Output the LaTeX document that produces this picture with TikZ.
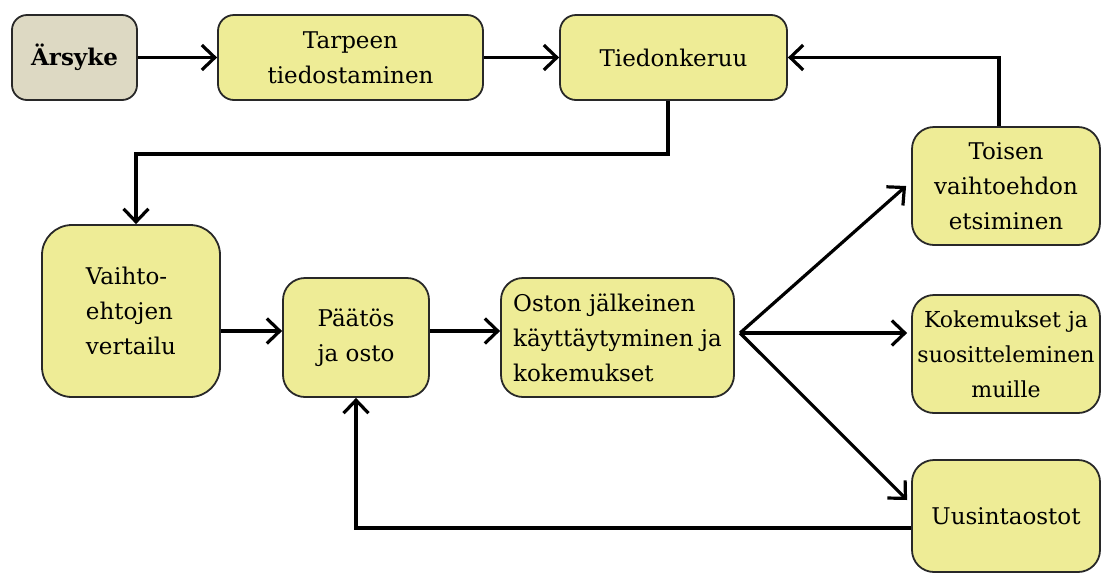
\documentclass[tikz,border=0pt]{standalone}
\usepackage{fontspec}
\setmainfont{DejaVu Serif}
\usetikzlibrary{arrows.meta}
\definecolor{boxyellow}{RGB}{238,236,150}
\definecolor{boxbeige}{RGB}{221,217,195}
\definecolor{edgegray}{RGB}{40,40,40}
\tikzset{
  box/.style={draw=edgegray, line width=1.8pt, fill=boxyellow, rounded corners=#1,
    inner sep=0pt, align=center, text=black, font=\fontsize{23}{35}\selectfont},
  box/.default=16pt,
  link/.style={line width=3.2pt, black},
  arr/.style={link, -{Straight Barb[length=13pt,width=25pt]}},
}
\begin{document}
\begin{tikzpicture}[x=1pt, y=-1pt]
  \useasboundingbox (0,0) rectangle (1106,574);

  % top row
  \node[box=15pt, fill=boxbeige, minimum width=125pt, minimum height=85pt, font=\fontsize{23}{35}\selectfont\bfseries]
    (arsyke) at (74.5,57.5) {Ärsyke};
  \node[box=16pt, minimum width=265pt, minimum height=85pt]
    (tarve) at (350.5,57.5) {Tarpeen\\tiedostaminen};
  \node[box=16pt, minimum width=227pt, minimum height=85pt]
    (tiedon) at (673.5,57.5) {Tiedonkeruu};

  % middle row
  \node[box=30pt, minimum width=178pt, minimum height=172pt, align=left]
    (vaihto) at (131,311) {Vaihto-\\ehtojen\\vertailu};
  \node[box=22pt, minimum width=146pt, minimum height=119pt, align=left]
    (paatos) at (356,337.5) {Päätös\\ja osto};
  \node[box=22pt, minimum width=233pt, minimum height=119pt, align=left]
    (oston) at (617.5,337.5) {Oston jälkeinen\\käyttäytyminen ja\\kokemukset};

  % right column
  \node[box=22pt, minimum width=188pt, minimum height=118pt]
    (toisen) at (1006,186) {Toisen\\vaihtoehdon\\etsiminen};
  \node[box=22pt, minimum width=188pt, minimum height=118pt, font=\fontsize{22}{35}\selectfont]
    (kokem) at (1006,354) {Kokemukset ja\\suositteleminen\\muille};
  \node[box=22pt, minimum width=188pt, minimum height=112pt]
    (uusinta) at (1006,516) {Uusintaostot};

  % helper points for the routed connectors
  \coordinate (yback) at (0,154);
  \coordinate (yrow) at (0,331);
  \coordinate (tdown) at ([xshift=-5.5pt]tiedon.south);
  \coordinate (vtop) at ([xshift=5pt]vaihto.north);
  \coordinate (tup) at ([xshift=-7pt]toisen.north);
  \coordinate (br) at (740,333);

  % connectors
  \draw[arr] (arsyke) -- (tarve);
  \draw[arr] (tarve) -- (tiedon);
  \draw[arr] (tdown) -- (tdown |- yback) -- (vtop |- yback) -- (vtop);
  \draw[arr] (tup) |- (tiedon.east);
  \draw[arr] (vaihto.east |- yrow) -- (paatos.west |- yrow);
  \draw[arr] (paatos.east |- yrow) -- (oston.west |- yrow);
  \draw[arr] (br) -- ([xshift=-5pt]toisen.west);
  \draw[arr] (br) -- ([xshift=-4pt]kokem.west |- br);
  \draw[arr] (br) -- ([shift={(-4,-16)}]uusinta.west);
  \draw[arr] ([yshift=-12pt]uusinta.west) -| (paatos.south);
\end{tikzpicture}
\end{document}
